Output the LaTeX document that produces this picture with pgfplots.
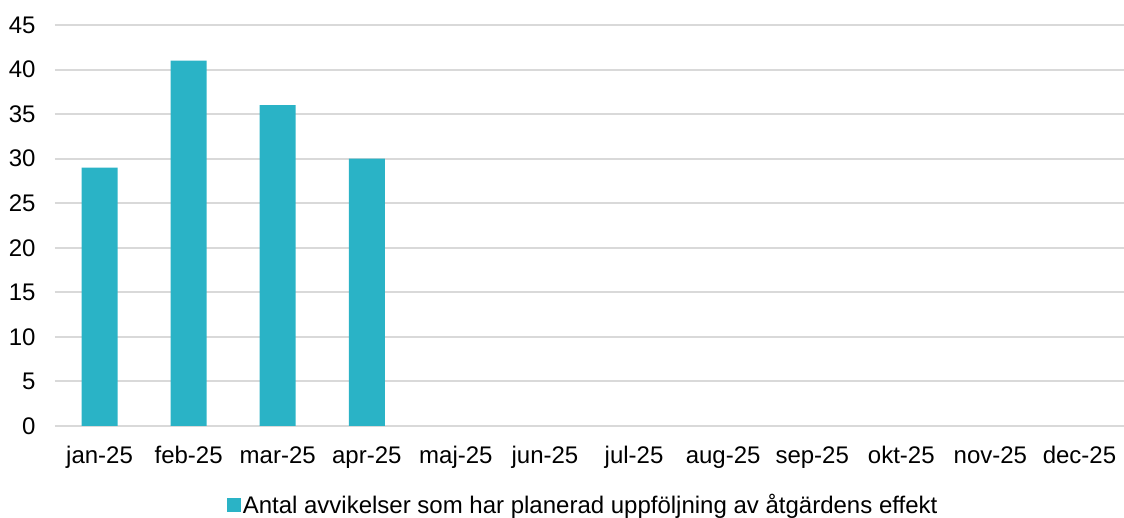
\documentclass[border=0pt]{standalone}
\usepackage{pgfplots}
\pgfplotsset{compat=1.18}
\usepackage{fontspec}
\setmainfont{Liberation Sans}
\definecolor{barc}{HTML}{2AB3C6}
\definecolor{gridc}{HTML}{D9D9D9}
\begin{document}
\begin{tikzpicture}
\useasboundingbox (-55pt,-92pt) rectangle (1069pt,426pt);
\begin{axis}[
  at={(0,0)}, anchor=south west,
  scale only axis, width=1069pt, height=401pt,
  xmin=-0.5, xmax=11.5, ymin=0, ymax=45,
  ytick={0,5,...,45},
  xtick={0,...,11},
  xticklabels={jan-25,feb-25,mar-25,apr-25,maj-25,jun-25,jul-25,aug-25,sep-25,okt-25,nov-25,dec-25},
  axis line style={draw=none},
  major tick length=0pt,
  ymajorgrids, grid style={gridc, line width=2pt},
  tick label style={font=\fontsize{24}{28}\selectfont},
  /pgf/number format/assume math mode=true,
  yticklabel style={xshift=-16pt},
  xticklabel style={yshift=-17pt},
  legend style={at={(0.494,-0.197)}, anchor=center, draw=none, fill=none, font=\fontsize{24}{28}\selectfont, /tikz/every even column/.append style={column sep=2pt}},
  legend image code/.code={\fill[barc] (0pt,-7pt) rectangle (14pt,7pt);},
]
\addplot[ybar, bar width=36pt, fill=barc, draw=none] coordinates {(0,29) (1,41) (2,36) (3,30)};
\addlegendentry{Antal avvikelser som har planerad uppföljning av åtgärdens effekt}
\end{axis}
\end{tikzpicture}
\end{document}
